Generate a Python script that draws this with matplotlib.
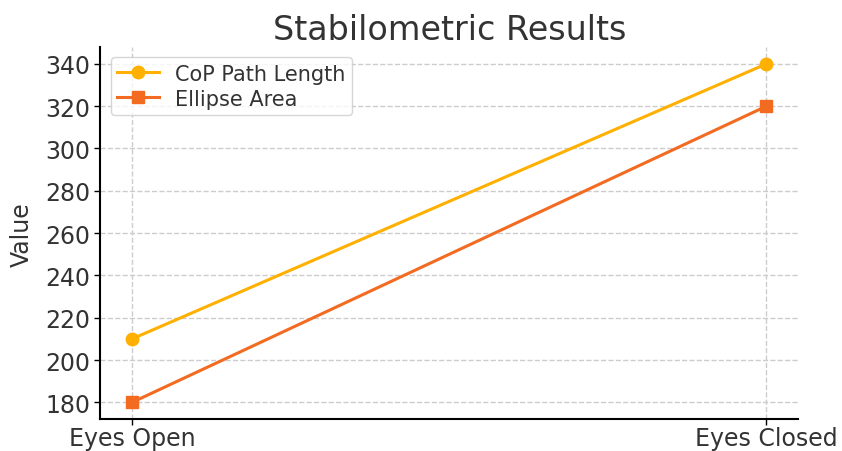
import numpy as np
import matplotlib
matplotlib.use('Agg')
import matplotlib.pyplot as plt

# data
conditions = ['Eyes Open', 'Eyes Closed']
cop_path_length = [210, 340]
ellipse_area = [180, 320]

text_color = '#333333'

fig = plt.figure(figsize=(8.42, 4.52), dpi=100)
ax = fig.add_axes([0.119, 0.07, 0.829, 0.824])

x = np.arange(len(conditions))
ax.plot(x, cop_path_length, color='#FFB000', marker='o', markersize=9, linewidth=2.2, label='CoP Path Length')
ax.plot(x, ellipse_area, color='#F26B21', marker='s', markersize=9, linewidth=2.2, label='Ellipse Area')

ax.set_xticks(x)
ax.set_xticklabels(conditions)
ax.set_yticks(np.arange(180, 341, 20))
ax.tick_params(axis='y', labelsize=17, length=4, width=1, pad=3, labelcolor=text_color)
ax.tick_params(axis='x', labelsize=17, length=4, width=1, pad=1, labelcolor=text_color)
ax.grid(True, linestyle='--', color='#cccccc', linewidth=1)
ax.spines['top'].set_visible(False)
ax.spines['right'].set_visible(False)
ax.spines['left'].set_linewidth(1.5)
ax.spines['bottom'].set_linewidth(1.5)

ax.set_ylabel('Value', fontsize=17, color=text_color, labelpad=8)
ax.set_title('Stabilometric Results', fontsize=24, pad=6, color=text_color)
leg = ax.legend(loc='upper left', fontsize=15, borderaxespad=0.5,
                labelspacing=0.25, borderpad=0.3)
for t in leg.get_texts():
    t.set_color(text_color)

fig.savefig('out.png', dpi=100)
